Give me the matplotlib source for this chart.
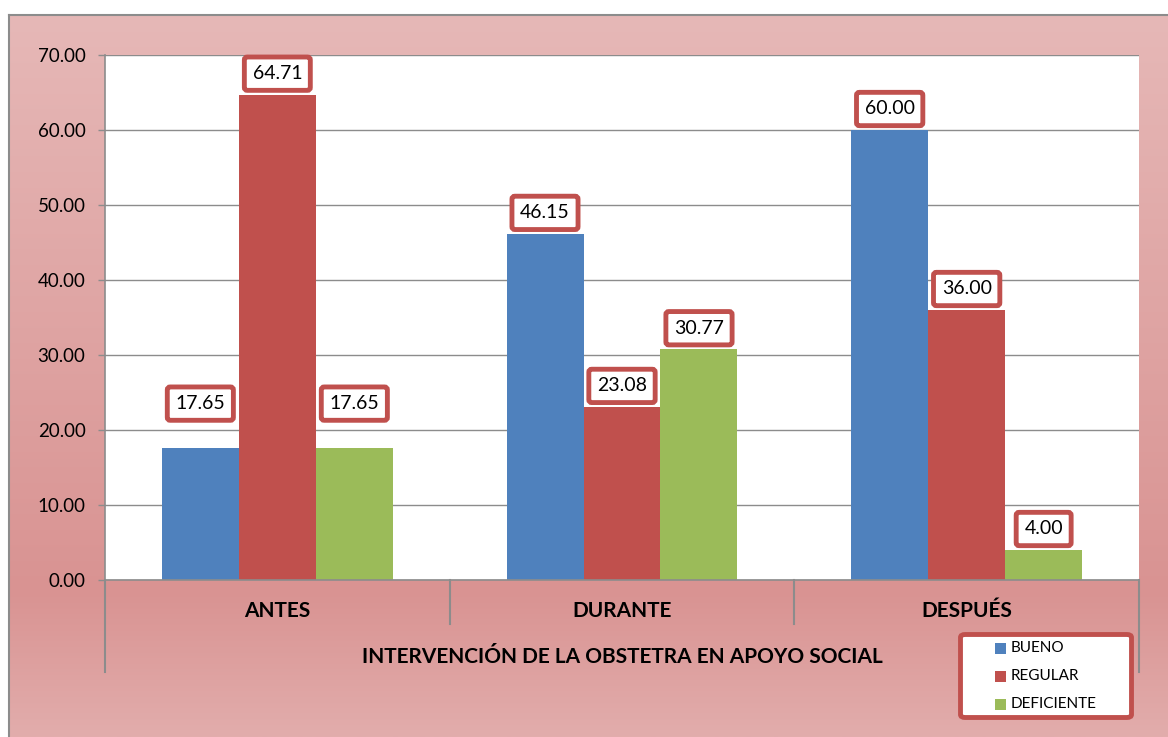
import numpy as np
import matplotlib
matplotlib.use("Agg")
import matplotlib.pyplot as plt
from matplotlib.patches import Rectangle, FancyBboxPatch
from matplotlib.colors import to_rgb
from matplotlib.transforms import blended_transform_factory

# datos
categorias = ["ANTES", "DURANTE", "DESPUÉS"]
series = ["BUENO", "REGULAR", "DEFICIENTE"]
bueno = [17.65, 46.15, 60.00]
regular = [64.71, 23.08, 36.00]
deficiente = [17.65, 30.77, 4.00]
titulo_eje = "INTERVENCIÓN DE LA OBSTETRA EN APOYO SOCIAL"
y_ticks = [0, 10, 20, 30, 40, 50, 60, 70]

colores = ["#4f81bd", "#c0504d", "#9bbb59"]
borde_rojo = "#c0504d"
gris = "#8c8c8c"

# desplazamiento de etiquetas (pixeles sobre la barra)
lift = {(0, 0): 44, (0, 2): 44}
lift_def = 21

plt.rcParams["font.family"] = ["Lato", "DejaVu Sans"]

W, H = 1168, 737
fig = plt.figure(figsize=(W / 100, H / 100), dpi=100, facecolor="white")

def fx(px):
    return px / W

def fy(py):
    return 1 - py / H

# fondo degradado
bg = fig.add_axes([fx(9), 0, 1 - fx(9), fy(15)])
stops = [0.0, 0.80, 1.0]
cols = [to_rgb("#e6b8b7"), to_rgb("#d99392"), to_rgb("#e2adac")]
t = np.linspace(0, 1, 300)
grad = np.stack([np.interp(t, stops, [c[k] for c in cols]) for k in range(3)], axis=-1)
bg.imshow(grad[:, None, :], aspect="auto", extent=[0, 1, 0, 1])
bg.set_xlim(0, 1)
bg.set_ylim(0, 1)
bg.set_xticks([])
bg.set_yticks([])
for s in ["right", "bottom"]:
    bg.spines[s].set_visible(False)
for s in ["left", "top"]:
    bg.spines[s].set_color(gris)
    bg.spines[s].set_linewidth(1.5)
bg.set_zorder(0)

# area de trazado
ax = fig.add_axes([fx(105), fy(580), fx(1139) - fx(105), fy(55) - fy(580)])
ax.set_zorder(1)
ax.set_facecolor("white")

n = len(categorias)
x = np.arange(n)
w = 0.2234
valores = [bueno, regular, deficiente]
for j, (vals, col) in enumerate(zip(valores, colores)):
    xs = x + (j - 1) * w
    ax.bar(xs, vals, width=w, color=col, zorder=2, linewidth=0)
    for i, v in enumerate(vals):
        off = lift.get((i, j), lift_def)
        ax.annotate(f"{v:.2f}", xy=(xs[i], v), xytext=(0, off),
                    textcoords="offset pixels", ha="center", va="center",
                    fontsize=14, zorder=5,
                    bbox=dict(boxstyle="round,pad=0.42,rounding_size=0.15",
                              fc="white", ec=borde_rojo, lw=3.5))

ax.set_xlim(-0.5, n - 0.5)
ax.set_ylim(0, 70)
ax.set_yticks(y_ticks)
ax.set_yticklabels([f"{v:.2f}" for v in y_ticks], fontsize=13.5)
ax.tick_params(axis="y", length=5, width=1, color=gris, pad=9)
ax.set_xticks([])
ax.grid(axis="y", color=gris, lw=1, zorder=0)
ax.set_axisbelow(True)
for s in ["top", "right"]:
    ax.spines[s].set_visible(False)
for s in ["left", "bottom"]:
    ax.spines[s].set_color(gris)
    ax.spines[s].set_linewidth(1.2)

# eje de categorias multinivel
alto = 580 - 55
tr = blended_transform_factory(ax.transData, ax.transAxes)
for k in range(n + 1):
    largo = 92 if k in (0, n) else 44
    ax.plot([k - 0.5, k - 0.5], [0, -largo / alto], transform=tr,
            color=gris, lw=1.5, clip_on=False)
for i, c in enumerate(categorias):
    ax.text(i, -31 / alto, c, transform=tr, ha="center", va="center",
            fontsize=15, fontweight="bold")
ax.text(0.5, -77 / alto, titulo_eje, transform=ax.transAxes, ha="center",
        va="center", fontsize=15, fontweight="bold")

# leyenda
fig.add_artist(FancyBboxPatch((fx(960.5), fy(717.5)), fx(1131.5) - fx(960.5),
                              fy(634.5) - fy(717.5), transform=fig.transFigure,
                              boxstyle="round,pad=0,rounding_size=0.004",
                              fc="white", ec=borde_rojo, lw=3.5, zorder=3))
for k, (nombre, col) in enumerate(zip(series, colores)):
    yc = 648 + 28 * k
    fig.add_artist(Rectangle((fx(995), fy(yc + 5.5)), fx(11), 11 / H,
                             transform=fig.transFigure, fc=col, ec="none", zorder=4))
    fig.text(fx(1011), fy(yc), nombre, ha="left", va="center", fontsize=11, zorder=5)

fig.savefig("out.png", dpi=100, facecolor="white")
